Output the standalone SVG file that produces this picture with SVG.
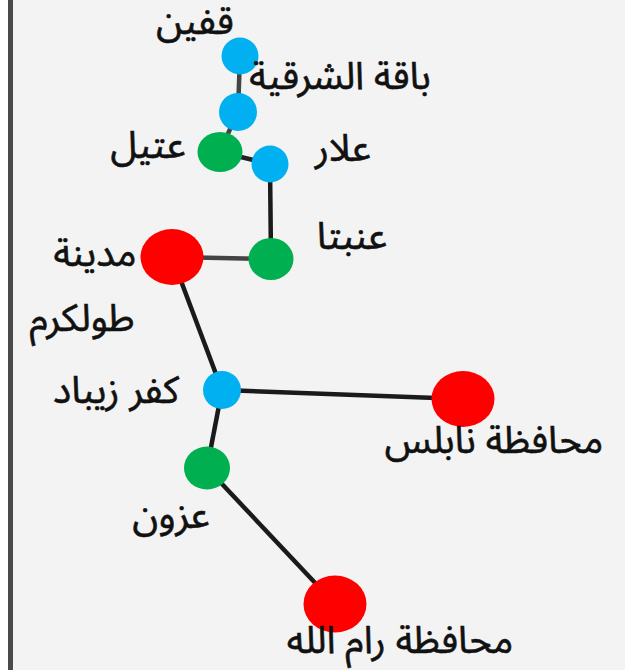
<svg xmlns="http://www.w3.org/2000/svg" width="625" height="670" viewBox="0 0 625 670">
<style>
.lbl{font-family:"Noto Sans Arabic","Noto Naskh Arabic","DejaVu Sans",sans-serif;font-size:38px;fill:#111;stroke:#111;stroke-width:0.6;text-anchor:middle}
.e{stroke-width:4.5;fill:none}
.b{fill:#00b0f0}.g{fill:#00b050}.r{fill:#ff0000}
</style>
<rect x="0" y="0" width="625" height="670" fill="#ffffff"/>
<rect x="10" y="0" width="615" height="670" fill="#f3f3f3"/>
<line x1="10.5" y1="0" x2="10.5" y2="670" stroke="#4a4a4a" stroke-width="5"/>
<g id="connectors">
<line class="e" x1="240" y1="56" x2="238" y2="111" stroke="#444"/>
<line class="e" x1="238" y1="111" x2="220" y2="152" stroke="#444"/>
<line class="e" x1="220" y1="152" x2="270" y2="164" stroke="#222"/>
<line class="e" x1="270" y1="164" x2="271" y2="259" stroke="#1a1a1a"/>
<line class="e" x1="271" y1="259" x2="172" y2="257" stroke="#444"/>
<line class="e" x1="172" y1="257" x2="222" y2="390" stroke="#1a1a1a"/>
<line class="e" x1="222" y1="390" x2="463" y2="399" stroke="#1a1a1a"/>
<line class="e" x1="222" y1="390" x2="207" y2="468" stroke="#1a1a1a"/>
<line class="e" x1="207" y1="468" x2="335" y2="604" stroke="#1a1a1a"/>
</g>
<g id="n-qaffin"><circle class="b" cx="240" cy="56" r="18.5"/><text class="lbl" x="195" y="34">قفين</text></g>
<g id="n-baqa"><circle class="b" cx="238" cy="112" r="19"/><text class="lbl" x="340" y="89">باقة الشرقية</text></g>
<g id="n-atil"><ellipse class="g" cx="220" cy="152" rx="22.5" ry="20"/><text class="lbl" x="148" y="158">عتيل</text></g>
<g id="n-allar"><circle class="b" cx="270" cy="164" r="18.5"/><text class="lbl" x="343" y="161">علار</text></g>
<g id="n-anabta"><ellipse class="g" cx="271" cy="259" rx="22.5" ry="21"/><text class="lbl" x="352" y="249">عنبتا</text></g>
<g id="n-tulkarm"><ellipse class="r" cx="172" cy="257" rx="31.5" ry="28"/><text class="lbl" x="95" y="266">مدينة</text><text class="lbl" x="82" y="331">طولكرم</text></g>
<g id="n-kafr"><circle class="b" cx="222" cy="390" r="19"/><text class="lbl" x="116" y="403">كفر زيباد</text></g>
<g id="n-nablus"><ellipse class="r" cx="463" cy="399" rx="31.5" ry="28"/><text class="lbl" x="494" y="453">محافظة نابلس</text></g>
<g id="n-azzun"><ellipse class="g" cx="207" cy="468" rx="23" ry="21.5"/><text class="lbl" x="171" y="528">عزون</text></g>
<g id="n-ramallah"><ellipse class="r" cx="335" cy="604" rx="31.5" ry="28.5"/><text class="lbl" x="400" y="653">محافظة رام الله</text></g>
</svg>
